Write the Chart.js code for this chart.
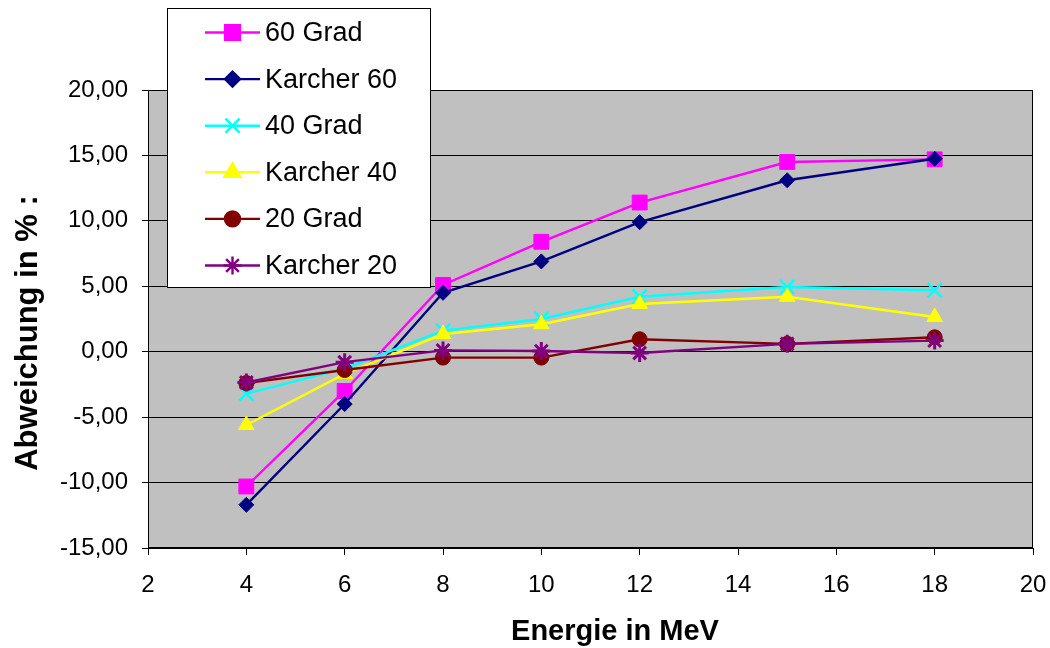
<!DOCTYPE html>
<html>
<head>
<meta charset="utf-8">
<script src="https://cdn.jsdelivr.net/npm/chart.js@4/dist/chart.umd.min.js"></script>
<style>
  html, body { margin: 0; padding: 0; background: #ffffff; }
  #wrap { width: 1050px; height: 648px; position: relative; }
</style>
</head>
<body>
<div id="wrap"><canvas id="c" width="1050" height="648"></canvas></div>
<script>
// Energy in MeV
const energies = [4, 6, 8, 10, 12, 15, 18];

// Deviation in percent per series
const grad60    = [-10.3, -3.0, 5.1, 8.4, 11.4, 14.5, 14.7];
const karcher60 = [-11.7, -4.0, 4.5, 6.9, 9.9, 13.1, 14.75];
const grad40    = [-3.2, -1.3, 1.6, 2.5, 4.2, 4.95, 4.7];
const karcher40 = [-5.6, -1.7, 1.35, 2.1, 3.65, 4.2, 2.65];
const grad20    = [-2.4, -1.4, -0.45, -0.45, 0.95, 0.6, 1.1];
const karcher20 = [-2.35, -0.8, 0.1, 0.05, -0.1, 0.6, 0.85];

const seriesNames = ['60 Grad', 'Karcher 60', '40 Grad', 'Karcher 40', '20 Grad', 'Karcher 20'];
const seriesValues = [grad60, karcher60, grad40, karcher40, grad20, karcher20];

const xTitle = 'Energie in MeV';
const yTitle = 'Abweichung in % :';

const FONT = '"Liberation Sans", Arial, sans-serif';

const styles = [
  { color: '#FF00FF', pointStyle: 'rect',     radius: 10.5, borderWidth: 1 },
  { color: '#000080', pointStyle: 'rectRot',  radius: 7.5,  borderWidth: 1 },
  { color: '#00FFFF', pointStyle: 'crossRot', radius: 10,   borderWidth: 2.5 },
  { color: '#FFFF00', pointStyle: 'triangle', radius: 9,    borderWidth: 1 },
  { color: '#800000', pointStyle: 'circle',   radius: 7.5,  borderWidth: 1 },
  { color: '#800080', pointStyle: 'star',     radius: 9,    borderWidth: 3 }
];

const fmt = v => v.toFixed(2).replace('.', ',');

const datasets = seriesNames.map((name, i) => ({
  label: name,
  data: energies.map((e, k) => ({ x: e, y: seriesValues[i][k] })),
  borderColor: styles[i].color,
  backgroundColor: styles[i].color,
  borderWidth: 2.4,
  pointStyle: styles[i].pointStyle,
  pointRadius: styles[i].radius,
  pointBorderWidth: styles[i].borderWidth,
  pointBackgroundColor: styles[i].color,
  pointBorderColor: styles[i].color,
  tension: 0,
  order: seriesNames.length - i
}));

// Grey plot area, frame, axis titles and boxed legend
const plotDecor = {
  id: 'plotDecor',
  beforeDraw(chart) {
    const a = chart.chartArea, ctx = chart.ctx;
    ctx.save();
    ctx.fillStyle = '#C0C0C0';
    ctx.fillRect(a.left, a.top, a.right - a.left, a.bottom - a.top);
    ctx.restore();
  },
  beforeDatasetsDraw(chart) {
    const a = chart.chartArea, ctx = chart.ctx;
    ctx.save();
    ctx.strokeStyle = '#000000';
    ctx.lineWidth = 1;
    ctx.strokeRect(Math.round(a.left) + 0.5, Math.round(a.top) + 0.5,
                   Math.round(a.right - a.left) - 1, Math.round(a.bottom - a.top) - 1);
    ctx.restore();
  },
  afterDraw(chart) {
    const ctx = chart.ctx;
    ctx.save();

    // axis titles
    ctx.fillStyle = '#000000';
    ctx.textAlign = 'center';
    ctx.textBaseline = 'middle';
    ctx.font = 'bold 29px ' + FONT;
    ctx.fillText(xTitle, 615, 632);
    ctx.save();
    ctx.translate(28, 333);
    ctx.rotate(-Math.PI / 2);
    ctx.font = 'bold 31px ' + FONT;
    ctx.fillText(yTitle, 0, 0);
    ctx.restore();

    // legend
    const box = { x: 167, y: 8, w: 264, h: 280 };
    ctx.fillStyle = '#ffffff';
    ctx.fillRect(box.x, box.y, box.w, box.h);
    ctx.strokeStyle = '#000000';
    ctx.lineWidth = 1;
    ctx.strokeRect(box.x + 0.5, box.y + 0.5, box.w - 1, box.h - 1);
    const rowY0 = 32.5, rowStep = 46.6;
    chart.data.datasets.forEach((ds, i) => {
      const y = rowY0 + i * rowStep;
      ctx.strokeStyle = ds.borderColor;
      ctx.lineWidth = 2.4;
      ctx.beginPath();
      ctx.moveTo(205, y);
      ctx.lineTo(260, y);
      ctx.stroke();
      ctx.fillStyle = ds.pointBackgroundColor;
      ctx.strokeStyle = ds.pointBorderColor;
      Chart.helpers.drawPoint(ctx, {
        pointStyle: ds.pointStyle,
        radius: ds.pointRadius,
        rotation: 0,
        borderWidth: ds.pointBorderWidth
      }, 232.5, y);
      ctx.fillStyle = '#000000';
      ctx.font = '27px ' + FONT;
      ctx.textAlign = 'left';
      ctx.textBaseline = 'middle';
      ctx.fillText(ds.label, 265, y + 1);
    });
    ctx.restore();
  }
};

new Chart(document.getElementById('c'), {
  type: 'line',
  data: { datasets },
  plugins: [plotDecor],
  options: {
    responsive: false,
    animation: false,
    devicePixelRatio: 1,
    layout: { padding: { top: 90, right: 17, bottom: 0, left: 0 } },
    plugins: {
      legend: { display: false },
      tooltip: { enabled: false }
    },
    scales: {
      x: {
        type: 'linear',
        min: 2, max: 20,
        afterFit(scale) {
          scale.height = 100;
          scale.paddingLeft = 0;
          scale.paddingRight = 0;
        },
        ticks: {
          stepSize: 2,
          color: '#000000',
          padding: 16,
          maxRotation: 0,
          font: { family: FONT, size: 24 }
        },
        grid: { drawOnChartArea: false, drawTicks: true, tickLength: 7, color: '#000000' },
        border: { display: true, color: '#000000', width: 1 },
        title: { display: false }
      },
      y: {
        type: 'linear',
        min: -15, max: 20,
        afterFit(scale) {
          scale.width = 148;
          scale.paddingTop = 0;
          scale.paddingBottom = 0;
        },
        ticks: {
          stepSize: 5,
          color: '#000000',
          padding: 14,
          callback: v => fmt(v),
          font: { family: FONT, size: 24 }
        },
        grid: { drawOnChartArea: true, drawTicks: true, tickLength: 6, color: '#000000', lineWidth: 1 },
        border: { display: true, color: '#000000', width: 1 },
        title: { display: false }
      }
    }
  }
});
</script>
</body>
</html>
